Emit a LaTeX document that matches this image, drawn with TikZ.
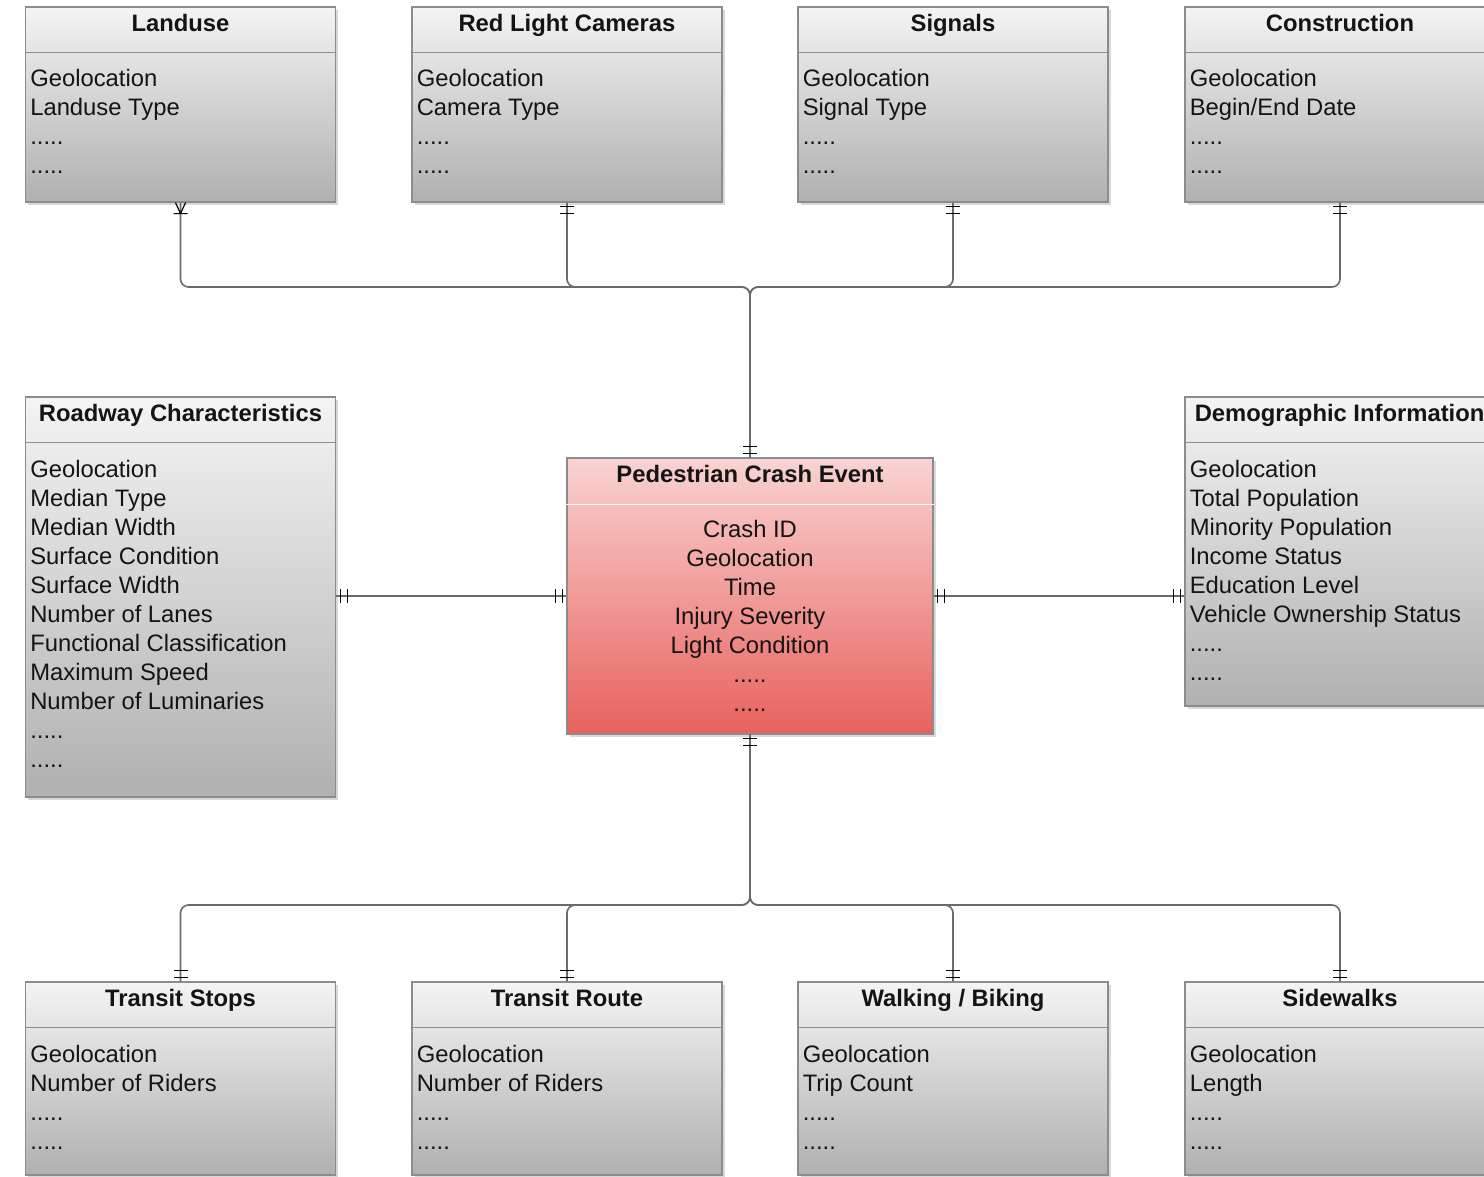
\documentclass[tikz,border=0pt]{standalone}
\usepackage{fontspec}
\setmainfont{Liberation Sans}
\usetikzlibrary{calc,positioning,shadows}
\definecolor{boxline}{HTML}{8C8C8C}
\definecolor{boxtop}{HTML}{F4F4F4}
\definecolor{boxbottom}{HTML}{B0B0B0}
\definecolor{crashtop}{HTML}{F9D3D3}
\definecolor{crashbottom}{HTML}{E8625D}
\definecolor{connline}{HTML}{6A6A6A}
\definecolor{ink}{HTML}{141414}

\tikzset{
  entity/.style={draw=boxline, line width=0.6pt, inner sep=0pt,
    top color=boxtop, bottom color=boxbottom,
    drop shadow={shadow xshift=1.3pt, shadow yshift=-1.3pt, opacity=0.3}},
  crashbox/.style={entity, top color=crashtop, bottom color=crashbottom},
  etitle/.style={font=\fontsize{11.9}{14.5}\selectfont\bfseries, text=ink, anchor=base, inner sep=0pt},
  attrs/.style={align=left, anchor=north west, inner sep=0pt, text=ink},
  sepline/.style={draw=boxline, line width=0.6pt},
  conn/.style={draw=connline, line width=0.8pt, rounded corners=4pt},
  markline/.style={draw=black, line width=0.6pt},
  onemark/.pic={\draw[markline] (-7,4) -- (7,4) (-7,11) -- (7,11);},
  manymark/.pic={\draw[markline] (-7,11) -- (7,11) (0,11) -- (-5,0) (0,11) -- (5,0);}
}

\begin{document}
\begin{tikzpicture}[x=0.5pt, y=-0.5pt, font=\fontsize{11.9}{14.5}\selectfont]

  \useasboundingbox (0,0) rectangle (1484,1177);
  \clip (0,0) rectangle (1484,1177);

  % ---------- top row
  \node[entity, minimum width=155pt, minimum height=97.5pt] (landuse) at (180.5,104.5) {};
  \node[entity, minimum width=155pt, minimum height=97.5pt] (redlight) at (567,104.5) {};
  \node[entity, minimum width=155pt, minimum height=97.5pt] (signals) at (953,104.5) {};
  \node[entity, minimum width=155pt, minimum height=97.5pt] (construction) at (1340,104.5) {};

  % ---------- middle row
  \node[entity, minimum width=155pt, minimum height=200pt] (road) at (180.5,597) {};
  \node[crashbox, minimum width=183pt, minimum height=138pt] (crash) at (750,596) {};
  \node[entity, minimum width=155pt, minimum height=154.5pt] (demo) at (1340,551.5) {};

  % ---------- bottom row
  \node[entity, minimum width=155pt, minimum height=96.5pt] (stops) at (180.5,1078.5) {};
  \node[entity, minimum width=155pt, minimum height=96.5pt] (route) at (567,1078.5) {};
  \node[entity, minimum width=155pt, minimum height=96.5pt] (walking) at (953,1078.5) {};
  \node[entity, minimum width=155pt, minimum height=96.5pt] (sidewalks) at (1340,1078.5) {};

  % header separators
  \foreach \n in {landuse,redlight,signals,construction,road,demo,stops,route,walking,sidewalks}
    \draw[sepline] ($(\n.north west)+(0,46)$) -- ($(\n.north east)+(0,46)$);
  \draw[white, line width=0.8pt] ($(crash.north west)+(0,47)$) -- ($(crash.north east)+(0,47)$);

  % titles
  \node[etitle] (landuse-t) at ($(landuse.north)+(0,25)$) {Landuse};
  \node[etitle] (redlight-t) at ($(redlight.north)+(0,25)$) {Red Light Cameras};
  \node[etitle] (signals-t) at ($(signals.north)+(0,25)$) {Signals};
  \node[etitle] (construction-t) at ($(construction.north)+(0,25)$) {Construction};
  \node[etitle] (road-t) at ($(road.north)+(0,25)$) {Roadway Characteristics};
  \node[etitle] (crash-t) at ($(crash.north)+(0,25)$) {Pedestrian Crash Event};
  \node[etitle, anchor=base west] (demo-t) at ($(demo.north west)+(10,25)$) {Demographic Information};
  \node[etitle] (stops-t) at ($(stops.north)+(0,25)$) {Transit Stops};
  \node[etitle] (route-t) at ($(route.north)+(0,25)$) {Transit Route};
  \node[etitle] (walking-t) at ($(walking.north)+(0,25)$) {Walking / Biking};
  \node[etitle] (sidewalks-t) at ($(sidewalks.north)+(0,25)$) {Sidewalks};

  % attribute lists
  \node[attrs] (landuse-a) at ($(landuse.north west)+(5,62)$) {Geolocation\\Landuse Type\\.....\\.....};
  \node[attrs] (redlight-a) at ($(redlight.north west)+(5,62)$) {Geolocation\\Camera Type\\.....\\.....};
  \node[attrs] (signals-a) at ($(signals.north west)+(5,62)$) {Geolocation\\Signal Type\\.....\\.....};
  \node[attrs] (construction-a) at ($(construction.north west)+(5,62)$) {Geolocation\\Begin/End Date\\.....\\.....};
  \node[attrs] (road-a) at ($(road.north west)+(5,63)$) {Geolocation\\Median Type\\Median Width\\Surface Condition\\Surface Width\\Number of Lanes\\Functional Classification\\Maximum Speed\\Number of Luminaries\\.....\\.....};
  \node[attrs, align=center, anchor=north] (crash-a) at ($(crash.north)+(0,62)$) {Crash ID\\Geolocation\\Time\\Injury Severity\\Light Condition\\.....\\.....};
  \node[attrs] (demo-a) at ($(demo.north west)+(5,63)$) {Geolocation\\Total Population\\Minority Population\\Income Status\\Education Level\\Vehicle Ownership Status\\.....\\.....};
  \node[attrs] (stops-a) at ($(stops.north west)+(5,63)$) {Geolocation\\Number of Riders\\.....\\.....};
  \node[attrs] (route-a) at ($(route.north west)+(5,63)$) {Geolocation\\Number of Riders\\.....\\.....};
  \node[attrs] (walking-a) at ($(walking.north west)+(5,63)$) {Geolocation\\Trip Count\\.....\\.....};
  \node[attrs] (sidewalks-a) at ($(sidewalks.north west)+(5,63)$) {Geolocation\\Length\\.....\\.....};

  % ---------- connectors
  \coordinate (topbus) at (750,287);
  \coordinate (botbus) at (750,905);

  \foreach \n in {landuse,redlight,signals,construction}
    \draw[conn] (\n.south) |- (topbus) -- (crash.north);
  \foreach \n in {stops,route,walking,sidewalks}
    \draw[conn] (crash.south) -- (botbus) -| (\n.north);
  \draw[conn] (crash.west -| road.east) -- (crash.west);
  \draw[conn] (crash.east) -- (crash.east -| demo.west);

  % cardinality marks
  \pic at (landuse.south) {manymark};
  \foreach \n in {redlight,signals,construction}
    \pic at (\n.south) {onemark};
  \pic[rotate=180] at (crash.north) {onemark};
  \pic at (crash.south) {onemark};
  \foreach \n in {stops,route,walking,sidewalks}
    \pic[rotate=180] at (\n.north) {onemark};
  \pic[rotate=90] at (crash.west -| road.east) {onemark};
  \pic[rotate=-90] at (crash.west) {onemark};
  \pic[rotate=90] at (crash.east) {onemark};
  \pic[rotate=-90] at (crash.east -| demo.west) {onemark};
\end{tikzpicture}
\end{document}
